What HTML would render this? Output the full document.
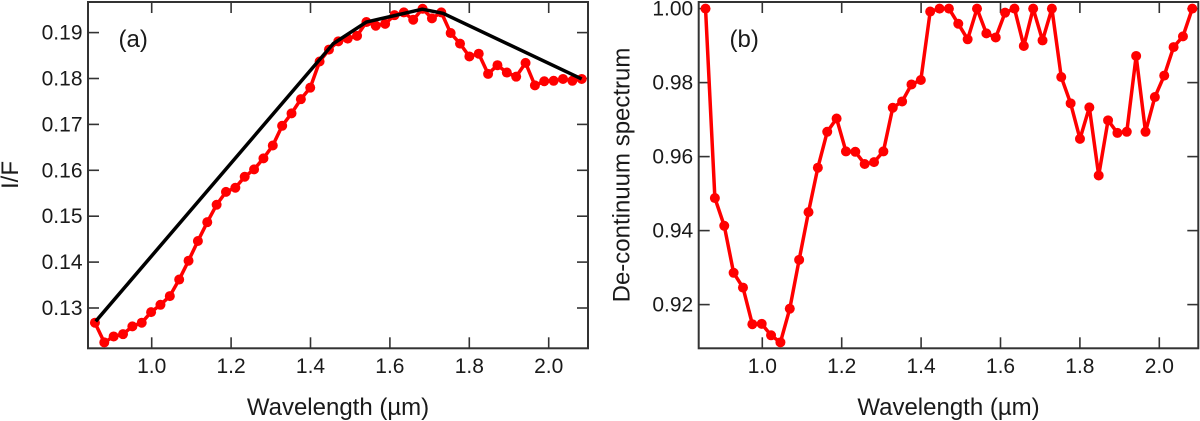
<!DOCTYPE html>
<html lang="en">
<head>
<meta charset="utf-8">
<title>Spectrum and de-continuum spectrum</title>
<style>
html,body{margin:0;padding:0;background:#fff;width:1200px;height:421px;overflow:hidden}
svg{display:block}
text{font-family:"Liberation Sans",Arial,sans-serif;font-size:21px;fill:#1a1a1a}
text.big{font-size:24px}
</style>
</head>
<body>
<svg id="chart" width="1200" height="421" viewBox="0 0 1200 421" xmlns="http://www.w3.org/2000/svg"></svg>
<script>
const wavelengthStart = 0.857;
const wavelengthStep = 0.02358;
const spectrumValues = [0.1268,0.1225,0.1238,0.1243,0.1260,0.1268,0.1291,0.1307,0.1326,0.1362,0.1403,0.1446,0.1487,
  0.1525,0.1553,0.1562,0.1586,0.1602,0.1626,0.1654,0.1697,0.1724,0.1755,0.1780,0.1837,0.1863,
  0.1881,0.1887,0.1893,0.1923,0.1915,0.1919,0.1938,0.1944,0.1928,0.1952,0.1931,0.1944,0.1899,0.1876,0.1848,0.1854,
  0.1810,0.1829,0.1813,0.1804,0.1834,0.1785,0.1794,0.1795,0.1799,0.1795,0.1799];
const continuumWavelengths = [0.859,1.4574,1.5406,1.6816,1.7338,2.083];
const continuumValues = [0.1271,0.1876,0.1923,0.1951,0.1942,0.1799];
const decontinuumValues = [1.0,0.9488,0.9413,0.9286,0.9246,0.9147,0.9148,0.9117,0.9098,0.9189,0.9321,0.9450,
  0.9570,0.9667,0.9703,0.9614,0.9613,0.9580,0.9585,0.9614,0.9732,0.9749,0.9795,0.9807,
  0.9992,1.0,1.0,0.9959,0.9917,1.0,0.9933,0.9922,0.9989,1.0,0.9899,1.0,0.9914,1.0,
  0.9815,0.9744,0.9648,0.9733,0.9549,0.9698,0.9664,0.9667,0.9872,0.9667,0.9761,0.9819,0.9896,0.9925,1.0];
const xTickValues = [1.0,1.2,1.4,1.6,1.8,2.0];
const xTickLabels = ["1.0","1.2","1.4","1.6","1.8","2.0"];
const yTickValuesA = [0.13,0.14,0.15,0.16,0.17,0.18,0.19];
const yTickLabelsA = ["0.13","0.14","0.15","0.16","0.17","0.18","0.19"];
const yTickValuesB = [0.92,0.94,0.96,0.98,1.0];
const yTickLabelsB = ["0.92","0.94","0.96","0.98","1.00"];

const NS = "http://www.w3.org/2000/svg";
const svg = document.getElementById("chart");
const wavelengths = spectrumValues.map((_, i) => wavelengthStart + wavelengthStep * i);

function make(tag, attrs, parent, txt) {
  const el = document.createElementNS(NS, tag);
  for (const k in attrs) el.setAttribute(k, attrs[k]);
  if (txt !== undefined) el.textContent = txt;
  parent.appendChild(el);
  return el;
}

function drawPanel(id, box, xScale, yScale, yTicks, yLabels, yTitle, yTitleX, yTitleY, panelLabel, labelX) {
  const g = make("g", {}, svg);
  
  

  const frame = make("rect", {x: box.l, y: box.t, width: box.r - box.l, height: box.b - box.t, fill: "none", stroke: "#333", "stroke-width": 2}, g);
  
  

  xTickValues.forEach((v, i) => {
    const x = xScale(v);
    const bottomTick = make("line", {x1: x, x2: x, y1: box.b, y2: box.b - 11, stroke: "#333", "stroke-width": 1.6}, g);
    
    
    const topTick = make("line", {x1: x, x2: x, y1: box.t, y2: box.t + 11, stroke: "#333", "stroke-width": 1.6}, g);
    
    
    const label = make("text", {x: x, y: 373, "text-anchor": "middle"}, g, xTickLabels[i]);
    
    
  });

  yTicks.forEach((v, i) => {
    const y = yScale(v);
    const leftTick = make("line", {x1: box.l, x2: box.l + 11, y1: y, y2: y, stroke: "#333", "stroke-width": 1.6}, g);
    
    
    const rightTick = make("line", {x1: box.r, x2: box.r - 11, y1: y, y2: y, stroke: "#333", "stroke-width": 1.6}, g);
    
    
    const label = make("text", {x: box.l - 5.5, y: y + 7, "text-anchor": "end"}, g, yLabels[i]);
    
    
  });

  const xTitle = make("text", {class: "big", x: (box.l + box.r) / 2, y: 415, "text-anchor": "middle"}, g, "Wavelength (µm)");
  
  

  const yT = make("text", {class: "big", x: 0, y: 0, "text-anchor": "middle", transform: "translate(" + yTitleX + " " + yTitleY + ") rotate(-90)"}, g, yTitle);
  
  

  const pl = make("text", {class: "big", x: labelX, y: 47}, g, panelLabel);
  
  
  return g;
}

function drawSeries(g, id, xs, ys, xScale, yScale) {
  const pts = xs.map((x, i) => xScale(x).toFixed(2) + "," + yScale(ys[i]).toFixed(2)).join(" ");
  const line = make("polyline", {points: pts, fill: "none", stroke: "#ff0000", "stroke-width": 3.5, "stroke-linejoin": "round"}, g);
  
  
  xs.forEach((x, i) => {
    const dot = make("circle", {cx: xScale(x), cy: yScale(ys[i]), r: 5, fill: "#ff0000"}, g);
    
    
  });
}

/* panel (a) */
const boxA = {l: 88, r: 588, t: 2, b: 348.3};
const xA = v => 151.7 + (v - 1) * 397;
const yA = v => 308 - (v - 0.13) * 4590;
const gA = drawPanel("panel-a", boxA, xA, yA, yTickValuesA, yTickLabelsA, "I/F", 18, 175, "(a)", 118.5);
drawSeries(gA, "spectrum", wavelengths, spectrumValues, xA, yA);
const contPts = continuumWavelengths.map((x, i) => xA(x).toFixed(2) + "," + yA(continuumValues[i]).toFixed(2)).join(" ");
const contLine = make("polyline", {points: contPts, fill: "none", stroke: "#000", "stroke-width": 3.5, "stroke-linejoin": "round"}, gA);



/* panel (b) */
const boxB = {l: 698.7, r: 1198.3, t: 2, b: 348.3};
const xB = v => 762.3 + (v - 1) * 397;
const yB = v => 8.6 + (1 - v) * 3700;
const gB = drawPanel("panel-b", boxB, xB, yB, yTickValuesB, yTickLabelsB, "De-continuum spectrum", 629.5, 175, "(b)", 729.5);
drawSeries(gB, "decontinuum", wavelengths, decontinuumValues, xB, yB);
</script>
</body>
</html>
